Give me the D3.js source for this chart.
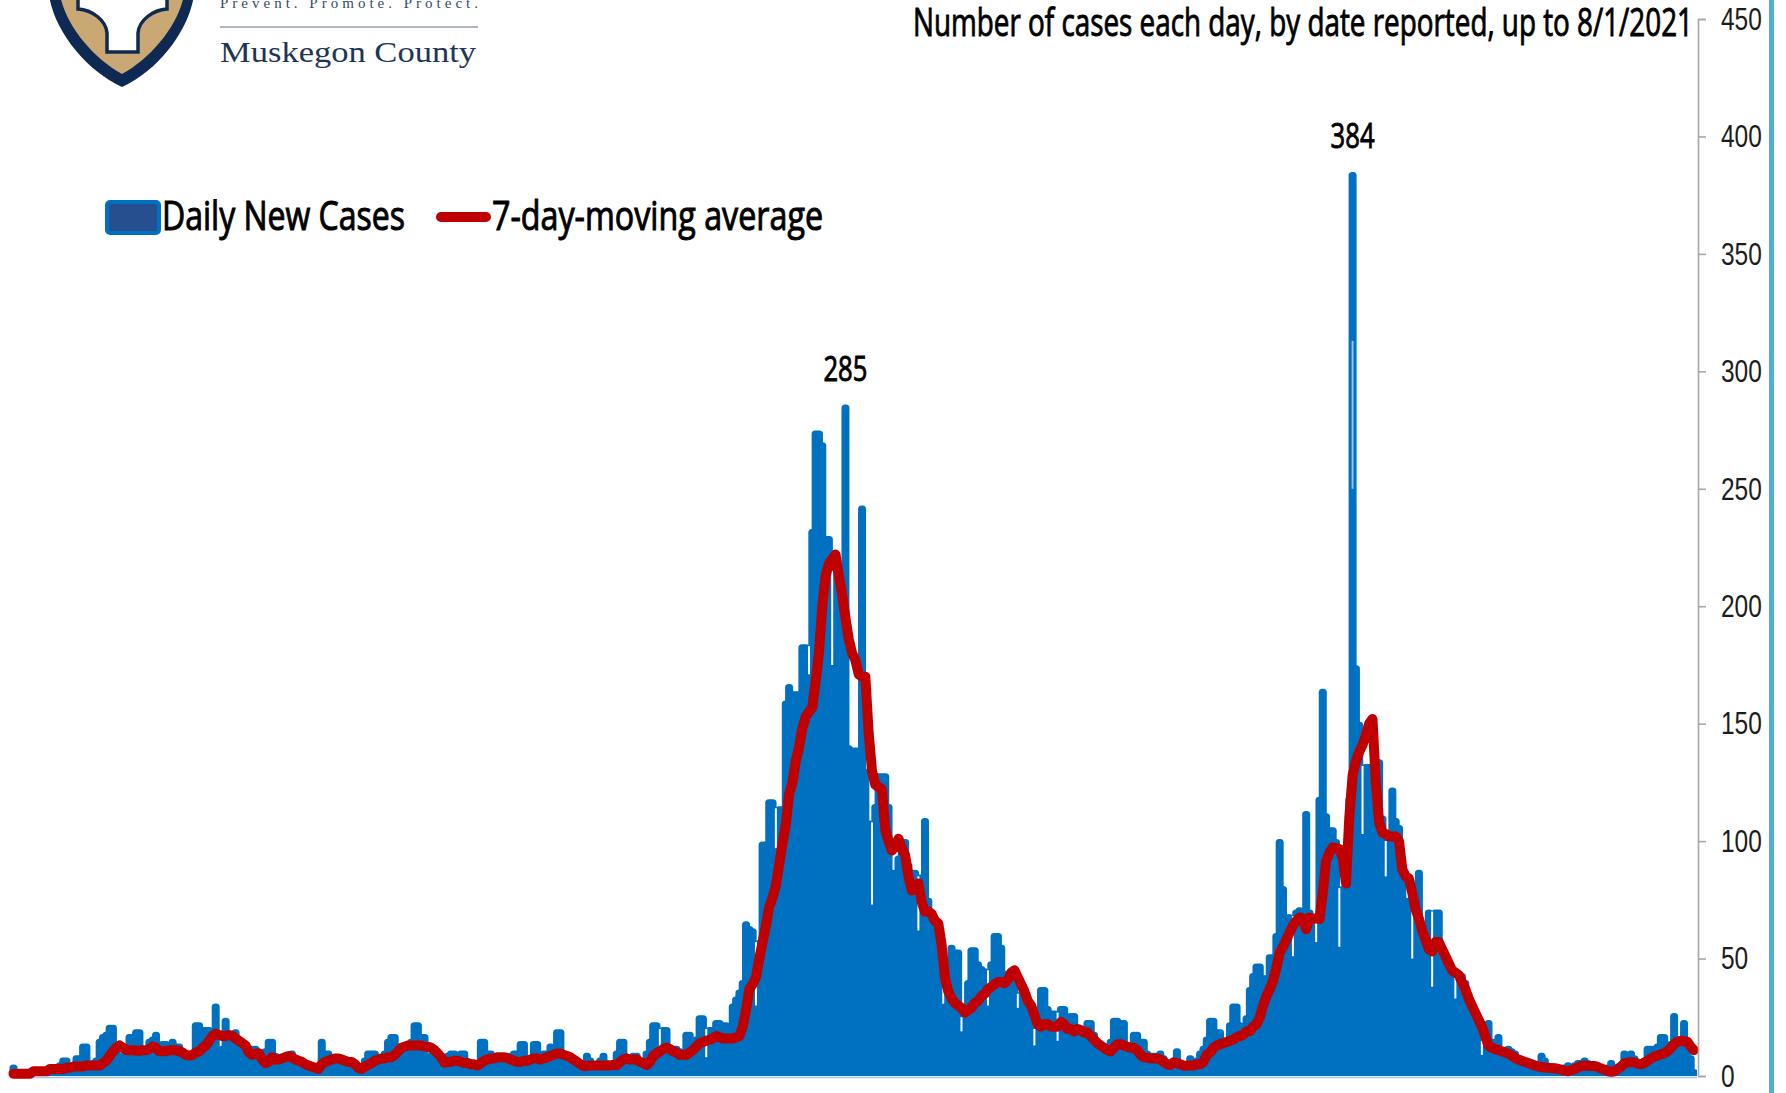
<!DOCTYPE html>
<html><head><meta charset="utf-8">
<script src="https://cdn.jsdelivr.net/npm/d3@7"></script>
<style>
html,body{margin:0;padding:0;background:#fff;overflow:hidden}
svg{display:block}
text{font-family:"Liberation Sans Narrow","Open Sans",sans-serif}
</style></head><body>
<svg id="chart" width="1786" height="1093"></svg>
<script>
const titleText = "Number of cases each day, by date reported, up to 8/1/2021";
const legendLabels = ["Daily New Cases", "7-day-moving average"];
const yTicks = [0,50,100,150,200,250,300,350,400,450];
const peakLabels = [285, 384];

const dailyCases = [
4,1,0,1,1,1,1,1,1,2,
2,1,2,2,5,7,7,2,3,8,
8,13,13,5,6,7,15,17,18,21,
21,12,9,8,9,17,17,19,19,9,
8,15,16,18,9,14,14,12,15,13,
13,11,6,8,9,22,22,20,20,20,
18,30,10,12,24,14,18,19,15,14,
9,9,12,12,6,5,11,15,15,9,
7,7,8,9,10,8,6,6,5,5,
4,4,3,15,10,10,7,7,7,7,
6,5,5,3,2,4,7,10,10,10,
7,6,10,15,17,17,11,11,11,12,
15,22,22,17,17,8,9,9,8,6,
5,9,10,10,8,10,10,6,6,5,
3,15,15,10,10,7,7,8,8,9,
9,10,10,14,14,6,7,14,14,9,
10,10,13,12,19,19,5,8,8,6,
5,5,5,9,7,5,5,7,9,6,
5,6,10,15,15,8,7,9,9,7,
6,10,15,22,22,10,20,20,12,12,
12,11,9,18,18,12,16,25,25,8,
20,20,23,23,22,22,17,30,33,36,
40,65,63,62,30,57,99,99,117,117,
97,114,114,159,166,163,163,163,183,183,
171,232,274,274,269,229,229,175,215,215,
215,285,140,139,139,139,242,130,108,73,
115,128,128,128,115,87,87,93,100,100,
90,87,87,62,85,109,75,70,60,45,
27,30,40,55,53,53,19,25,40,54,
54,48,46,45,30,48,60,60,55,44,
44,44,40,29,35,35,30,25,13,20,
37,37,29,27,27,15,29,29,22,26,
26,18,18,13,23,23,18,14,11,10,
7,15,24,24,23,23,7,12,18,18,
15,15,10,9,9,9,10,8,5,4,
6,11,6,4,5,8,6,7,10,12,
16,24,24,19,19,15,15,22,30,30,
22,18,25,37,43,47,47,42,42,51,
51,60,100,80,68,68,51,70,71,70,
112,70,66,57,118,164,111,105,105,100,
55,80,80,118,384,174,150,103,132,132,
130,134,134,110,85,100,122,109,106,84,
75,75,50,70,87,60,60,70,38,70,
70,55,50,48,46,33,43,43,40,35,
30,23,23,9,15,23,15,15,17,8,
10,12,11,10,8,6,5,5,4,4,
5,9,7,3,3,3,3,3,4,5,
3,5,6,6,7,6,5,5,4,3,
3,4,6,4,3,5,10,9,10,8,
6,5,7,12,12,12,13,17,17,9,
14,26,14,15,23,12,8,2];

const movingAverage = [
1,1,1,1,1,1,2,2,2,2,
2,3,3,3,3,3,3.5,3.5,4,4,
4,4,4.5,4.5,4.5,4.5,4.5,5.5,6.5,8.5,
10.5,12,13,12,11,11,11,10.7,10.7,11,
11,11.5,12.5,12,10.5,10.5,10.5,11,11,11,
10.5,10,9,8.7,9,10,10.5,12,13,15,
17,18,17.5,17,17,17.5,17,16,15,14,
13,10,9,9.5,9.7,7,5.5,6,8,7,
7,7.5,8,8.5,8,7,6.5,6,5,4.5,
4,3.5,3,5,6,6.5,7,7.5,7.5,7,
6.5,6,6,5,3.5,3,4,4.7,5.5,6.5,
7,7.5,7.5,8,8,9,10.5,12,12.5,13,
13,13,13,13,12.5,12.5,12,11,9.6,8,
5.7,6,6,6.5,6.5,6,5.5,5.5,5,5,
4.4,5.5,6.5,7,7.5,7.5,8,8,8,7.5,
7,6.5,6,6,6.5,6.5,7,7.5,7.5,7,
7.5,8,8.5,9,9.6,9.6,9,8.5,8,7,
6,5,4.2,4.2,4.5,4.5,4.5,4.5,4.5,4.5,
4.5,4.7,4.7,6,7,7.5,7,7,7,6,
5.5,4.7,6,8.5,9.6,10.5,11.5,12,11.5,10.5,
10,9,9,9,10,11,12.5,14,14.5,15,
15.5,16,17,16.5,16,16,16,16,16.5,17,
21,28,37,39,42,50,57,64,72,76,
81,90,99,107,120,125,134,140,148,153,
155,157,168,180,200,213,218,220,222,213,
205,195,186,180,177,171,170,170,146,130,
124,123,122,105,100,96,98,101,97,94,
85,79,80,82,74,70,70,69,66,65,
56,42,36,33,31,30,29,27,28,29,
31,32,34,35,37,38,39,40,40,39.5,
41,44,45,42,39,36,32,30,26,22,
21,22,22,21,21,21,23,22,20,20,
19,20,19.5,18.5,18.5,17,15.5,14,13,12,
11,10.5,12,13.5,13.5,13,12.5,12,12,11,
9,8,7.8,7.5,7.5,7.5,7,6,5,4.7,
5.8,5.5,5,4.4,4.4,4.5,4.5,5,5,6,
9,10,12,13,13.5,14,14.5,15,15.5,16.5,
17,17.5,19,19,21,22,25,30,34,37,
40.5,46,52.6,55,58,61,64,66,67.5,67,
62.5,67.5,67,67,66.8,78,91.6,95,97.3,97,
96.6,93,82,110,128,134,138,141,145,150,
152,125,108,103.7,103,102,102,102,100,88,
85,84,78,71,67,62,58,54,53,57,
57,54,51,48,45,44,43,40,37,33,
30,27,24,21,17,13,12,11.4,11,10.5,
10,9.5,8.7,7.7,7,6.5,6,5.5,5,4.5,
4,3.8,3.6,3.5,3.4,3.3,3,2.7,2.3,2,
2.5,3,3.7,4.3,4.5,4.3,4.3,4.3,3.8,3.2,
2.7,2,1.8,2,3,4,5.4,5.7,5.9,5.8,
5.3,5,5.5,6.5,7.5,8.2,8.7,9.2,9.7,10.5,
12,13.5,14.6,15,14.8,14.6,12.5,11];

const BLUE = "#0070c0", RED = "#c00000", NAVY = "#0f2a52", TAN = "#c9a874";
const W = 1786, H = 1093;
const svg = d3.select("#chart");
const defs = svg.append("defs");
defs.append("filter").attr("id","soft").attr("x","-2%").attr("y","-2%").attr("width","104%").attr("height","104%")
  .append("feGaussianBlur").attr("stdDeviation",0.6);
defs.append("clipPath").attr("id","plotClip").append("rect")
  .attr("x",0).attr("y",0).attr("width",1697).attr("height",1076);

const x = d3.scaleLinear().domain([0, dailyCases.length - 1]).range([13.5, 1694]);
const y = d3.scaleLinear().domain([0, 450]).range([1076, 19]);
const barW = 8;

const marks = svg.append("g").attr("filter","url(#soft)");
const bars = marks.append("g").attr("clip-path","url(#plotClip)");
bars.selectAll("rect").data(dailyCases).join("rect")
  .attr("x",(d,i)=>x(i)-barW/2).attr("width",barW)
  .attr("y",d=>y(d)-2).attr("height",d=>y(0)-y(d)+12)
  .attr("rx",3.5).attr("fill",BLUE);

// narrow white gaps where a day falls below both neighbours
const gaps = dailyCases.map((v,i)=>({i,v,top:Math.min(dailyCases[i-1]??0,dailyCases[i+1]??0)}))
  .filter(d=>d.top-d.v>5);
bars.selectAll("rect.gap").data(gaps).join("rect").attr("class","gap")
  .attr("x",d=>x(d.i)-1).attr("width",2)
  .attr("y",d=>y(d.top)).attr("height",d=>y(d.v)-y(d.top)).attr("fill","#fff");

// pale streak visible inside the tallest bar
bars.append("rect").attr("x",x(dailyCases.indexOf(384))-1).attr("width",2)
  .attr("y",y(313)).attr("height",y(250)-y(313)).attr("fill","#8fc0e6");

marks.append("line").attr("x1",10).attr("x2",1697).attr("y1",1077.5).attr("y2",1077.5)
  .attr("stroke","#9cc8ea").attr("stroke-width",1.6);

marks.append("path").datum(movingAverage)
  .attr("d",d3.line().x((d,i)=>x(i)).y(d=>y(d)))
  .attr("fill","none").attr("stroke",RED).attr("stroke-width",10)
  .attr("stroke-linejoin","round").attr("stroke-linecap","round");

// right axis
const axis = svg.append("g").attr("transform","translate(1698,0)")
  .call(d3.axisRight(y).tickValues(yTicks).tickSize(8).tickPadding(15));
axis.select(".domain").attr("stroke","#a8a8a8").attr("stroke-width",1.6);
axis.selectAll(".tick line").attr("stroke","#a8a8a8").attr("stroke-width",1.6);
axis.selectAll("text").attr("font-size",32).attr("fill","#1c1c1c")
  .attr("textLength",d=>String(d).length*13.6).attr("lengthAdjust","spacingAndGlyphs")
  .style("font-family",'"Liberation Sans Narrow",sans-serif');

// title
svg.append("text").attr("x",913).attr("y",36).text(titleText)
  .attr("font-size",38).attr("fill","#000").attr("stroke","#000").attr("stroke-width",0.9)
  .attr("textLength",780).attr("lengthAdjust","spacingAndGlyphs");

// peak labels
const peakIdx = peakLabels.map(p=>dailyCases.indexOf(p));
svg.selectAll("text.peak").data(peakLabels).join("text").attr("class","peak")
  .attr("x",(d,i)=>x(peakIdx[i])).attr("y",d=>y(d)-26)
  .attr("text-anchor","middle").attr("font-size",34).attr("fill","#000")
  .attr("stroke","#000").attr("stroke-width",0.9).text(d=>d)
  .attr("textLength",44).attr("lengthAdjust","spacingAndGlyphs");

// legend
const lg = svg.append("g");
lg.append("rect").attr("x",107).attr("y",202).attr("width",52).attr("height",31).attr("rx",3)
  .attr("fill","#254f8f").attr("stroke",BLUE).attr("stroke-width",4);
lg.append("text").attr("x",162).attr("y",230).text(legendLabels[0])
  .attr("font-size",40).attr("fill","#000").attr("stroke","#000").attr("stroke-width",1)
  .attr("textLength",243).attr("lengthAdjust","spacingAndGlyphs");
lg.append("line").attr("x1",441).attr("x2",486).attr("y1",217).attr("y2",217)
  .attr("stroke",RED).attr("stroke-width",10).attr("stroke-linecap","round");
lg.append("text").attr("x",492).attr("y",230).text(legendLabels[1])
  .attr("font-size",40).attr("fill","#000").attr("stroke","#000").attr("stroke-width",1)
  .attr("textLength",331).attr("lengthAdjust","spacingAndGlyphs");

// logo
const logo = svg.append("g");
logo.append("path").attr("fill",NAVY)
  .attr("d","M49,-5 C54,30 85,70 122,87 C159,70 189,30 194,-5 Z");
logo.append("path").attr("fill",TAN)
  .attr("d","M60,-5 C66,26 93,58 122,74 C151,58 178,26 184,-5 Z");
logo.append("path").attr("fill","#fff").attr("stroke",NAVY).attr("stroke-width",3.5)
  .attr("d","M78,-5 L78,9 C92,10 106,20 107,33 L107,52 L138,52 L138,33 C139,20 153,10 167,9 L167,-5 Z");

svg.append("text").attr("x",220).attr("y",8).text("Prevent. Promote. Protect.")
  .style("font-family",'"Liberation Serif",serif').attr("font-size",15).attr("fill","#3a4a66")
  .attr("textLength",258).attr("lengthAdjust","spacing");
svg.append("line").attr("x1",220).attr("x2",478).attr("y1",27).attr("y2",27)
  .attr("stroke","#5f6f88").attr("stroke-width",1);
svg.append("text").attr("x",220).attr("y",62).text("Muskegon County")
  .style("font-family",'"Liberation Serif",serif').attr("font-size",30).attr("fill","#1d3557")
  .attr("textLength",256).attr("lengthAdjust","spacingAndGlyphs");

// right stripe
svg.append("rect").attr("x",1769).attr("y",0).attr("width",5).attr("height",H).attr("fill","#4fb0cf");
</script>
</body></html>
